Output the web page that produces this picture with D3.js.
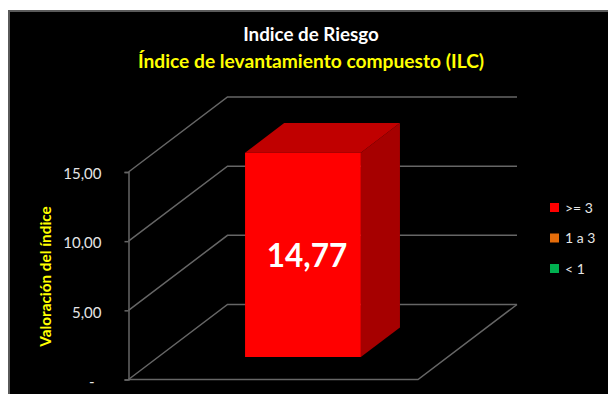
<!DOCTYPE html>
<html>
<head>
<meta charset="utf-8">
<script src="https://cdn.jsdelivr.net/npm/d3@7"></script>
<style>
html, body { margin: 0; padding: 0; background: #fff; overflow: hidden; }
text { font-family: Lato, "Open Sans", sans-serif; }
</style>
</head>
<body>
<div id="container"></div>
<script>
const categories = ["ILC"];
const seriesNames = [">= 3", "1 a 3", "< 1"];
const seriesColors = ["#ff0000", "#e46c0a", "#00b050"];
const seriesValues = [14.77, 0, 0];
const tickValues = [0, 5, 10, 15];
const tickLabels = ["-", "5,00", "10,00", "15,00"];
const valueLabel = "14,77";

const width = 608;
const height = 394;

const lineColor = "#666666";
const depthX = 99;
const depthY = -75;
// where the bar sits inside the depth of the floor (0 = front, 1 = back)
const barDepthFront = 0.3;
const barDepthBack = 0.695;

let svg = d3.select("#container")
    .append("svg")
    .attr("width", width)
    .attr("height", height)
    .style("display", "block");

svg.append("rect")
    .attr("x", 9)
    .attr("y", 11)
    .attr("width", width)
    .attr("height", height)
    .attr("fill", "#000")
    .attr("stroke", "#5a5a5a")
    .attr("stroke-width", 2);

let xScale = d3.scaleBand()
    .domain(categories)
    .range([128.5, 418])
    .padding(0.4286);

let yScale = d3.scaleLinear()
    .domain([0, 15])
    .range([379.5, 172]);

// project a (front x, value, depth) point to the screen
function pt(x, v, d) {
    return [x + depthX * d, yScale(v) + depthY * d];
}
const line = d3.line();

// side wall + back wall gridlines
const x0 = xScale.range()[0];
const x1 = xScale.range()[1];
svg.append("g")
    .selectAll("path")
    .data(tickValues)
    .enter()
    .append("path")
    .attr("d", d => line([pt(x0, d, 0), pt(x0, d, 1), pt(x1, d, 1)]))
    .attr("fill", "none")
    .attr("stroke", lineColor)
    .attr("stroke-width", 1.5);

// floor
svg.append("path")
    .attr("d", line([pt(x0, 0, 0), pt(x1, 0, 0), pt(x1, 0, 1)]))
    .attr("fill", "none")
    .attr("stroke", lineColor)
    .attr("stroke-width", 1.5);

// value axis
let yAxis = d3.axisLeft(yScale)
    .tickValues(tickValues)
    .tickFormat((d, i) => tickLabels[i])
    .tickSize(4)
    .tickPadding(23);

let axisG = svg.append("g")
    .attr("transform", "translate(" + x0 + ",0)")
    .call(yAxis);
axisG.select(".domain").attr("stroke", lineColor).attr("stroke-width", 1.5);
axisG.selectAll(".tick line").attr("stroke", lineColor).attr("stroke-width", 1.5);
axisG.selectAll(".tick text")
    .attr("fill", "#e6e6e6")
    .attr("dy", "0.45em")
    .style("font-size", "15px")
    .style("font-family", "Lato, sans-serif")
    .attr("dx", d => d === 0 ? -7 : 0);

// bar, only the first series has a visible height
const bx0 = xScale(categories[0]);
const bx1 = bx0 + xScale.bandwidth();
const v = seriesValues[0];

svg.append("path")
    .attr("d", line([pt(bx1, 0, barDepthFront), pt(bx1, 0, barDepthBack), pt(bx1, v, barDepthBack), pt(bx1, v, barDepthFront)]) + "Z")
    .attr("fill", "#a60000");
svg.append("path")
    .attr("d", line([pt(bx0, v, barDepthFront), pt(bx0, v, barDepthBack), pt(bx1, v, barDepthBack), pt(bx1, v, barDepthFront)]) + "Z")
    .attr("fill", "#c00000");
svg.append("path")
    .attr("d", line([pt(bx0, 0, barDepthFront), pt(bx1, 0, barDepthFront), pt(bx1, v, barDepthFront), pt(bx0, v, barDepthFront)]) + "Z")
    .attr("fill", seriesColors[0]);

svg.append("text")
    .attr("x", 307)
    .attr("y", 267)
    .attr("text-anchor", "middle")
    .attr("fill", "#fff")
    .style("font-size", "31.5px")
    .style("font-weight", "700")
    .text(valueLabel);

// titles
svg.append("text")
    .attr("x", 311)
    .attr("y", 41)
    .attr("text-anchor", "middle")
    .attr("fill", "#fff")
    .style("font-size", "18.8px")
    .style("font-weight", "700")
    .text("Indice de Riesgo");

svg.append("text")
    .attr("x", 311)
    .attr("y", 68)
    .attr("text-anchor", "middle")
    .attr("fill", "#ffff00")
    .style("font-size", "19.2px")
    .style("font-weight", "700")
    .text("Índice de levantamiento compuesto (ILC)");

svg.append("text")
    .attr("transform", "translate(51,276.5) rotate(-90)")
    .attr("text-anchor", "middle")
    .attr("fill", "#ffff00")
    .style("font-size", "15.3px")
    .style("font-weight", "700")
    .text("Valoración del índice");

// legend
let legendScale = d3.scalePoint()
    .domain(seriesNames)
    .range([207.5, 268.5]);

let legend = svg.append("g")
    .selectAll("g")
    .data(seriesNames)
    .enter()
    .append("g")
    .attr("transform", d => "translate(550," + legendScale(d) + ")");

legend.append("rect")
    .attr("y", -4.5)
    .attr("width", 9)
    .attr("height", 9)
    .attr("fill", (d, i) => seriesColors[i]);

legend.append("text")
    .attr("x", 15)
    .attr("y", 5)
    .attr("fill", "#e6e6e6")
    .style("font-size", "14px")
    .text(d => d);
</script>
</body>
</html>
